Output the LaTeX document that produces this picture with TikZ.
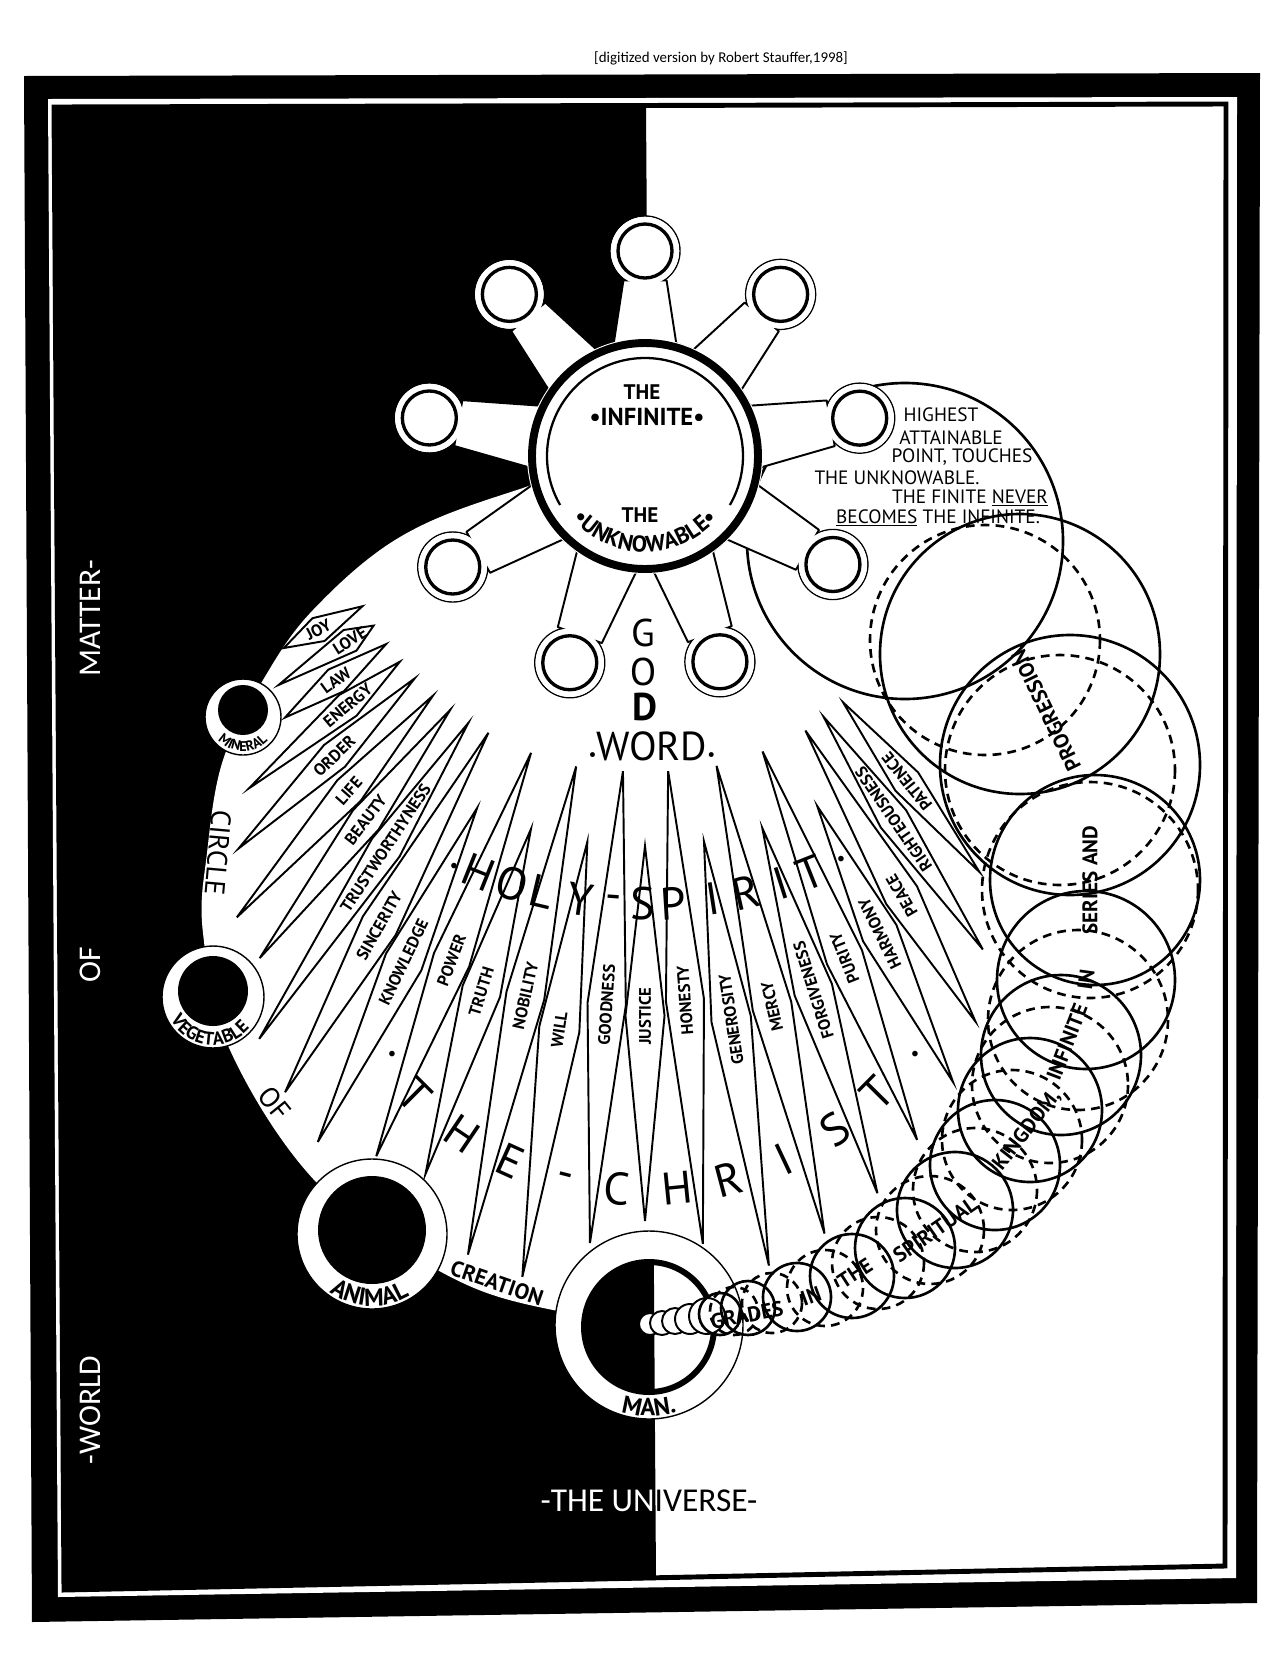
\documentclass[tikz,border=0pt]{standalone}
\usepackage{fontspec}
\setmainfont{Carlito}
\newfontfamily\handfont{PT Sans}
\usetikzlibrary{calc,decorations.text}

\begin{document}
\begin{tikzpicture}[
  x=0.02cm, y=-0.02cm,
  frame text/.style={font=\fontsize{18}{18}\selectfont, inner sep=0pt},
  ring/.style={fill=white, draw=black, line width=0.8pt},
  ray/.style={draw=black, line width=1.1pt, line join=miter},
  ray label/.style={font=\handfont\bfseries\fontsize{9.5}{9.5}\selectfont, inner sep=0pt},
  big letter/.style={font=\handfont\fontsize{26}{26}\selectfont, inner sep=0pt},
  note/.style={font=\handfont\fontsize{11}{11}\selectfont, inner sep=0pt},
  grade/.style={draw=black, line width=1.5pt},
  grade dashed/.style={grade, dash pattern=on 5pt off 3.5pt},
  grade word/.style={font=\handfont\bfseries\fontsize{12}{12}\selectfont, inner sep=0pt},
  ornament/.style={font=\fontsize{9}{9}\selectfont, inner sep=0pt}
  ]
\useasboundingbox (0,0) rectangle (1264,1654);
% Frame
\fill[black] (24,76) -- (1260,73) -- (1257,1603) -- (32,1622) -- cycle;
\fill[white] (48,99) -- (1237,97) -- (1236,1578) -- (58,1597) -- cycle;
\draw[fill=white, line width=2.8pt] (54,107) -- (1226,104) -- (1225,1566) -- (64,1590) -- cycle;
\fill[black] (54,107) -- (646,106) -- (656,1580) -- (64,1590) -- cycle;
\node[font=\fontsize{8.5}{8.5}\selectfont, inner sep=0pt] (credit) at (721,58) {[digitized version by Robert Stauffer,1998]};
\node[frame text, white, rotate=90] (matter) at (90,618) {MATTER-};
\node[frame text, white, rotate=90] (matter of) at (90,965) {OF};
\node[frame text, white, rotate=90] (world) at (90,1410) {-WORLD};
\begin{scope}
  \clip (54,107) -- (646,106) -- (656,1580) -- (64,1590) -- cycle;
  \node[frame text, white, font=\fontsize{19}{19}\selectfont] (universe) at (649,1501) {-THE UNIVERSE-};
\end{scope}
\begin{scope}
  \clip (646,106) -- (1226,104) -- (1225,1566) -- (656,1580) -- cycle;
  \node[frame text, black, font=\fontsize{19}{19}\selectfont] (universe light) at (649,1501) {-THE UNIVERSE-};
\end{scope}
% Circle of creation
\fill[white] plot[smooth cycle, tension=0.6] coordinates {(517,490) (400,537) (313,610) (263,680) (223,760) (207,853) (203,933) (230,1050) (317,1183) (443,1273) (553,1310) (720,1330) (920,1150) (1000,850) (900,520) (700,440)};
% Highest attainable point
\draw[grade] (905,541) circle (158);
% The Infinite
\coordinate (infinite) at (645,456);
\foreach \a/\d in {270/205,310/211,350/218,390/217,430/219,470/220,510/222,550/219,590/211}
  \draw[ring] ($(infinite)+(\a:\d)$) circle (35);
\draw[fill=white, line width=1.1pt, line join=round] ($(infinite)+(254.5:117)$)
  \foreach \a/\d in {270/205,310/211,350/218,390/217,430/219,470/220,510/222,550/219,590/211} {
    -- ($(infinite)+(\a-15.5:117)$) -- ($(infinite)+(\a-7:\d-28)$)
    -- ($(infinite)+(\a+7:\d-28)$) -- ($(infinite)+(\a+15.5:117)$) } -- cycle;
\foreach \a/\d [count=\i] in {270/205,310/211,350/218,390/217,430/219,470/220,510/222,550/219,590/211} {
  \coordinate (star \i) at ($(infinite)+(\a:\d)$);
  \fill[white] (star \i) circle (34.2);
  \draw[line width=1.9pt] (star \i) circle (27);
}
\fill[white] (infinite) circle (118);
\draw[line width=4.5pt] (infinite) circle (113);
\draw[line width=1.3pt] ($(infinite)+(150:98)$) arc[start angle=150, end angle=390, radius=98];
\node[font=\handfont\bfseries\fontsize{12}{12}\selectfont, inner sep=0pt] (infinite the) at (642,392) {THE};
\node[font=\handfont\bfseries\fontsize{14}{14}\selectfont, inner sep=0pt] (infinite name) at (647,417) {•INFINITE•};
\node[font=\handfont\bfseries\fontsize{12}{12}\selectfont, inner sep=0pt] (unknowable the) at (640,515) {THE};
\path[decorate, decoration={text along path, text align=center,
  text={|\handfont\bfseries\fontsize{13}{13}\selectfont|•UNKNOWABLE•}}]
  ($(infinite)+(155:96)$) arc[start angle=155, end angle=25, radius=96];
% Rays of the Word
\foreach \a/\rt/\rm/\rb/\virtue [count=\i] in {152/320/370/409/JOY, 148/320/348/432/LOVE,
    144/320/382/445/LAW, 140/320/388/517/ENERGY, 136/320/432/565/ORDER, 131.5/320/447/616/LIFE,
    127.5/320/459/633/BEAUTY, 123.5/320/470/699/TRUSTWORTHYNESS, 119.5/318/540/731/SINCERITY,
    115.5/390/561/760/KNOWLEDGE, 111/318/540/750/POWER, 107/390/560/751/TRUTH,
    102.5/318/553/818/NOBILITY, 98.5/390/580/830/WILL, 94/316/550/789/GOODNESS,
    90/390/560/765/JUSTICE, 85.8/316/546/790/HONESTY, 81.3/390/570/819/GENEROSITY,
    77/318/565/798/MERCY, 72.5/390/560/773/FORGIVENESS, 68.3/318/540/736/PURITY,
    63.8/390/532/698/HARMONY, 59.7/318/509/655/PEACE, 55.6/316/440/598/RIGHTEOUSNESS,
    51.2/316/418/534/PATIENCE} {
  \draw[ray] ($(infinite)+(\a:\rt)$) -- ($(infinite)+({\a-2}:\rm)$)
    -- ($(infinite)+(\a:\rb)$) -- ($(infinite)+({\a+2}:\rm)$) -- cycle;
  \node[ray label, rotate=180-\a] (virtue \i) at ($(infinite)+(\a:\rm)$) {\virtue};
}
% God, Word
\node[font=\handfont\fontsize{22}{22}\selectfont, inner sep=0pt] (god g) at (643,633) {G};
\node[font=\handfont\fontsize{22}{22}\selectfont, inner sep=0pt] (god o) at (643,672) {O};
\node[font=\handfont\bfseries\fontsize{22}{22}\selectfont, inner sep=0pt] (god d) at (645,707) {D};
\node[font=\handfont\fontsize{23}{23}\selectfont, inner sep=0pt] (word) at (652,746) {{\fontsize{10}{10}\selectfont•}WORD{\fontsize{10}{10}\selectfont•}};
% Holy Spirit, the Christ
\foreach \l/\a [count=\i] in {H/111.8, O/107.2, L/103.4, Y/98.3, -/94.1, S/90.3, P/86.4, I/81.3, R/77, I/72.3, T/68.4}
  \node[big letter, rotate=90-\a] (holy \i) at ($(infinite)+(\a:448)$) {\l};
\coordinate (christ) at (645,864);
\foreach \l/\a [count=\i] in {T/134.9, H/124.1, E/114.4, -/104.3, C/95, H/84.3, R/75.2, I/64.8, S/54.4, T/44.7}
  \node[big letter, rotate=90-\a] (christ \i) at ($(christ)+(\a:326)$) {\l};
\node[ornament] (mark a) at (454,867) {•};
\node[ornament] (mark b) at (841,860) {•};
\node[ornament] (mark c) at (392,1055) {•};
\node[ornament] (mark d) at (915,1055) {•};
% Mineral
\coordinate (mineral) at (243,717);
\draw[ring] (mineral) circle (38);
\fill[black] ($(mineral)+(0,-7)$) circle (25);
\path[decorate, decoration={text along path, text align=center,
  text={|\handfont\bfseries\fontsize{8}{8}\selectfont|MINERAL}}]
  ($(mineral)+(168:34)$) arc[start angle=168, end angle=12, radius=34];
% Vegetable
\coordinate (vegetable) at (213,997);
\draw[ring] (vegetable) circle (51);
\fill[black] ($(vegetable)+(0,-6)$) circle (35);
\path[decorate, decoration={text along path, text align=center,
  text={|\handfont\bfseries\fontsize{10.5}{10.5}\selectfont|VEGETABLE}}]
  ($(vegetable)+(172:48)$) arc[start angle=172, end angle=20, radius=48];
% Animal
\coordinate (animal) at (372,1234);
\draw[ring] (animal) circle (75);
\fill[black] ($(animal)+(0,-4)$) circle (54);
\path[decorate, decoration={text along path, text align=center,
  text={|\handfont\bfseries\fontsize{14}{14}\selectfont|ANIMAL}}]
  ($(animal)+(150:72)$) arc[start angle=150, end angle=35, radius=72];
% Man
\coordinate (man) at (649,1325);
\draw[ring] (man) circle (94);
\fill[white] ($(man)+(0,2)$) circle (67);
\begin{scope}
  \clip (54,107) -- (646,106) -- (656,1580) -- (64,1590) -- cycle;
  \fill[black] ($(man)+(0,2)$) circle (67);
\end{scope}
\draw[line width=3.4pt] ($(man)+(0,2)$) circle (65);
\path[decorate, decoration={text along path, text align=center,
  text={|\handfont\bfseries\fontsize{14}{14}\selectfont|MAN.}}]
  ($(man)+(125:91)$) arc[start angle=125, end angle=55, radius=91];
% Edge words
\node[font=\handfont\bfseries\fontsize{12.5}{12.5}\selectfont, rotate=-19, inner sep=0pt] (creation) at (497,1283) {CREATION};
\node[font=\handfont\fontsize{16}{16}\selectfont, rotate=-95, inner sep=0pt] (circle word) at (218,853) {CIRCLE};
\node[font=\handfont\fontsize{16}{16}\selectfont, rotate=-51, inner sep=0pt] (of word) at (275,1103) {OF};
% Grades in the spiritual kingdom
\foreach \x/\y/\r in {650/1324/11, 662/1323/12, 675/1321/13, 690/1319/15, 707/1316/18}
  \draw[grade, fill=white, line width=1.1pt] (\x,\y) circle (\r);
\foreach \x/\y/\r in {720/1314/21, 748/1308/27, 797/1297/34, 852/1276/42, 905/1248/50,
    955/1210/58, 995/1165/65, 1030/1110/72, 1061/1055/80, 1086/980/89, 1095/880/105,
    1070/765/130, 1020/654/140}
  \draw[grade] (\x,\y) circle (\r);
\foreach \x/\y/\r in {734/1311/24, 772/1303/30, 825/1288/38, 878/1263/46, 930/1230/54,
    975/1190/62, 1012/1140/70, 1050/1085/78, 1078/1020/90, 1090/890/108, 1060/770/115,
    985/640/115}
  \draw[grade dashed] (\x,\y) circle (\r);
\node[grade word, rotate=11] (grades) at (747,1315) {GRADES};
\node[grade word, rotate=20] (grades in) at (811,1296) {IN};
\node[grade word, rotate=33] (grades the) at (855,1273) {THE};
\node[grade word, rotate=35] (spiritual) at (935,1230) {SPIRITUAL};
\node[grade word, rotate=52] (kingdom) at (1027,1130) {KINGDOM,};
\node[grade word, rotate=69] (infinite word) at (1067,1042) {INFINITE};
\node[grade word, rotate=82] (series in) at (1086,980) {IN};
\node[grade word, rotate=90] (series) at (1090,880) {SERIES AND};
\node[grade word, rotate=116] (progression) at (1045,708) {PROGRESSION.};
% Highest attainable point, note
\node[note] (note 1) at (941,415) {HIGHEST};
\node[note] (note 2) at (951,438) {ATTAINABLE};
\node[note] (note 3) at (962,457) {POINT, TOUCHES};
\node[note] (note 4) at (897,478) {THE UNKNOWABLE.};
\node[note] (note 5) at (970,498) {THE FINITE \underline{NEVER}};
\node[note] (note 6) at (938,518) {\underline{BECOMES} THE INFINITE.};
\end{tikzpicture}
\end{document}
